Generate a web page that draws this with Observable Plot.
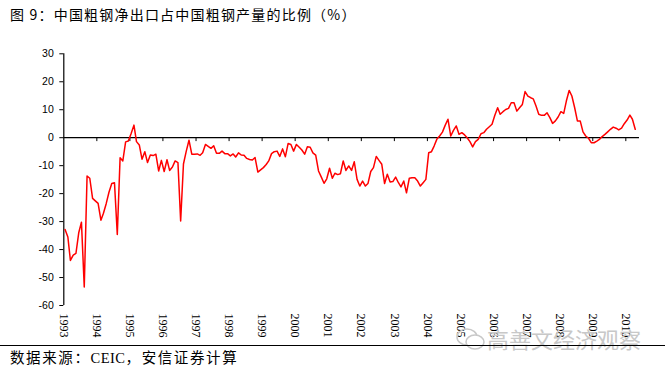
<!DOCTYPE html>
<html>
<head>
<meta charset="utf-8">
<script src="https://cdn.jsdelivr.net/npm/d3@7"></script>
<script src="https://cdn.jsdelivr.net/npm/@observablehq/plot@0.6"></script>
<style>
  html, body { margin: 0; padding: 0; background: #fff; }
  #wrap { position: relative; width: 665px; height: 371px; overflow: hidden; }
  #title { position: absolute; left: 10px; top: 5px; font-family: "Noto Sans CJK SC", sans-serif; font-size: 14px; letter-spacing: 1.2px; color: #000; white-space: nowrap; line-height: 18px; }
  #chart { position: absolute; left: 0; top: 28px; }
  #rule { position: absolute; left: 0; top: 345px; width: 665px; height: 0; border-top: 1.3px solid #000; }
  #source { position: absolute; left: 10px; top: 347px; font-family: "Noto Sans CJK SC", serif; font-size: 14.5px; letter-spacing: 1.6px; color: #000; white-space: nowrap; line-height: 20px; }
  #source .lat { font-family: "Liberation Serif", serif; letter-spacing: 0.5px; }
  #wm { position: absolute; left: 455px; top: 324px; color: #c8c8c8; font-family: "Noto Sans CJK SC", sans-serif; font-size: 22px; white-space: nowrap; line-height: 28px; }
</style>
</head>
<body>
<div id="wrap">
  <div id="title">图 9：中国粗钢净出口占中国粗钢产量的比例（%）</div>
  <div id="chart"></div>
  <div id="wm"><svg width="32" height="26" style="vertical-align:-4px"><ellipse cx="12" cy="11" rx="10" ry="8" fill="none" stroke="#c8c8c8" stroke-width="1.5"/><ellipse cx="20" cy="16" rx="9" ry="7" fill="#fff" stroke="#c8c8c8" stroke-width="1.5"/></svg>高善文经济观察</div>
  <div id="rule"></div>
  <div id="source">数据来源：<span class="lat">CEIC</span>，安信证券计算</div>
</div>
<script>
// Monthly net exports of crude steel as % of crude steel output, from Jan 1993
const startYear = 1993;
const ratio = [
  -32.8, -35.5, -43.9, -42.0, -41.4, -34.0, -30.2, -53.4, -13.7, -14.5, -21.7, -22.6,
  -23.5, -29.5, -27.0, -23.5, -19.5, -16.4, -16.1, -34.6, -7.2, -8.3, -1.5, -1.2,
  1.5, 4.5, -1.4, -2.6, -7.7, -5.0, -8.9, -6.2, -6.4, -5.9, -11.9, -8.1,
  -12.1, -7.9, -11.7, -10.5, -8.3, -8.9, -29.8, -9.4, -4.8, -0.9, -5.9, -5.9,
  -5.8, -6.3, -5.4, -2.4, -3.1, -3.8, -2.9, -5.6, -5.6, -4.8, -5.7, -5.7,
  -6.5, -5.8, -6.9, -5.4, -6.2, -6.3, -7.4, -7.8, -8.0, -7.1, -12.3, -11.5,
  -10.7, -9.6, -8.3, -5.7, -5.0, -4.8, -6.7, -4.0, -6.8, -2.1, -2.4, -4.8,
  -2.4, -3.4, -4.4, -5.9, -3.2, -3.4, -5.4, -6.2, -11.9, -14.0, -16.3, -14.7,
  -10.9, -14.5, -12.7, -13.2, -12.9, -8.3, -11.7, -10.1, -11.7, -8.6, -14.9, -17.3,
  -15.5, -17.3, -16.4, -12.1, -10.7, -6.7, -8.1, -9.5, -16.4, -13.1, -15.8, -15.7,
  -14.1, -16.1, -17.6, -15.5, -19.7, -14.5, -14.3, -14.3, -15.5, -17.3, -16.1, -14.9,
  -5.4, -5.0, -3.0, -0.5, 0.6, 2.0, 4.4, 6.6, 0.6, 2.6, 4.2, 1.2,
  1.8, 1.0, 0.0, -1.4, -3.3, -1.4, -0.6, 1.4, 1.8, 3.0, 3.9, 4.8,
  8.0, 10.7, 8.4, 9.3, 10.1, 10.5, 12.5, 12.5, 9.5, 10.7, 11.9, 16.5,
  14.9, 14.3, 13.9, 11.3, 8.4, 8.0, 8.0, 8.9, 7.2, 5.1, 6.0, 7.4,
  9.3, 8.7, 13.1, 16.9, 14.9, 10.7, 6.0, 6.0, 2.1, 0.6, -0.2, -1.8,
  -1.8, -1.2, -0.6, 0.4, 1.2, 2.1, 3.0, 3.8, 3.4, 2.8, 3.4, 5.0,
  6.3, 8.1, 6.6, 3.0
];
const yearLabels = d3.range(1993, 2011);
const yTicks = [30, 20, 10, 0, -10, -20, -30, -40, -50, -60];

const data = ratio.map((v, i) => ({ date: new Date(Date.UTC(startYear, i, 15)), value: v }));
const yearDates = yearLabels.map(y => new Date(Date.UTC(y, 0, 1)));
const x0 = new Date(Date.UTC(1993, 0, 1));
const x1 = new Date(Date.UTC(2010, 6, 1));

const chart = Plot.plot({
  width: 665,
  height: 315,
  marginLeft: 63.3,
  marginRight: 23.3,
  marginTop: 25.3,
  marginBottom: 38,
  style: { background: "transparent", overflow: "visible" },
  x: { type: "utc", domain: [x0, x1] },
  y: { domain: [-60, 30] },
  marks: [
    Plot.axisY({ ticks: yTicks, tickSize: 4, tickPadding: 6, tickFormat: d => String(d), label: null,
      fontFamily: "Liberation Sans, sans-serif", fontSize: 10.5, fill: "#000", stroke: "#000", strokeWidth: 1 }),
    Plot.ruleX([x0], { y1: -60, y2: 30, stroke: "#000", strokeWidth: 1.2 }),
    Plot.axisX({ ticks: yearDates, anchor: "bottom", tickSize: 0, tickPadding: 8, tickRotate: 90, label: null,
      tickFormat: d => String(d.getUTCFullYear()), fontFamily: "Liberation Serif, serif", fontSize: 12, fill: "#000" }),
    Plot.ruleY([0], { x1: x0, x2: new Date(Date.UTC(2010, 5, 1)), stroke: "#000", strokeWidth: 1.2 }),
    Plot.ruleX(yearDates.slice(1), { y1: 0, y2: -1.4, stroke: "#000", strokeWidth: 1 }),
    Plot.line(data, { x: "date", y: "value", stroke: "#ff0000", strokeWidth: 1.5 })
  ]
});
document.getElementById("chart").appendChild(chart);
</script>
</body>
</html>
